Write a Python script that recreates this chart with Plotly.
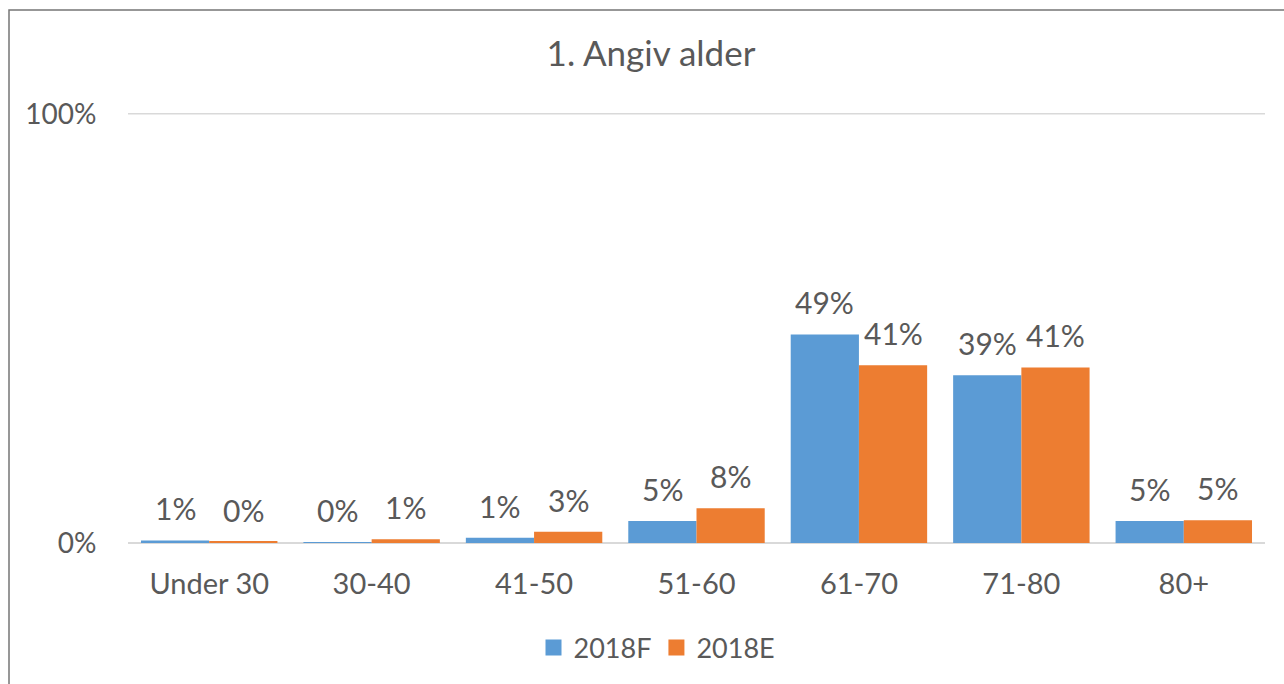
import plotly.graph_objects as go

categories = ["Under 30", "30-40", "41-50", "51-60", "61-70", "71-80", "80+"]
series_f = [0.006, 0.002, 0.012, 0.051, 0.486, 0.391, 0.051]
series_e = [0.003, 0.009, 0.026, 0.081, 0.414, 0.409, 0.053]
y_ticks = [0, 1]
y_tick_labels = ["0%", "100%"]

FONT = "Lato, 'Open Sans', sans-serif"
GREY = "#595959"
BLUE = "#5b9bd5"
ORANGE = "#ed7d31"

W, H = 1284, 684
L, R, T, B = 128, 19, 113, 141
PW, PH = W - L - R, H - T - B

fig = go.Figure()
fig.add_trace(go.Bar(name="2018F", x=categories, y=series_f, marker_color=BLUE,
                     marker_line_width=0, showlegend=False))
fig.add_trace(go.Bar(name="2018E", x=categories, y=series_e, marker_color=ORANGE,
                     marker_line_width=0, showlegend=False))
# legend entries
fig.add_trace(go.Scatter(name="2018F", x=[None], y=[None], mode="markers",
                         marker=dict(symbol="square", size=18, color=BLUE)))
fig.add_trace(go.Scatter(name="2018E", x=[None], y=[None], mode="markers",
                         marker=dict(symbol="square", size=18, color=ORANGE)))

bar_px = PW / len(categories) * (1 - 0.16) / 2
annotations = []
for vals, shift in ((series_f, -bar_px / 2), (series_e, bar_px / 2)):
    for c, v in zip(categories, vals):
        annotations.append(dict(x=c, y=v, xref="x", yref="y", text=f"{v:.0%}",
                                showarrow=False, xshift=shift, yshift=12, yanchor="bottom",
                                font=dict(size=30, color=GREY, family=FONT)))

fig.update_layout(
    width=W, height=H,
    margin=dict(l=L, r=R, t=T, b=B),
    paper_bgcolor="white", plot_bgcolor="white",
    barmode="group", bargap=0.16, bargroupgap=0,
    font=dict(family=FONT, color=GREY, size=24),
    title=dict(text="1. Angiv alder", x=651 / W, xanchor="center", y=1 - 54 / H, yanchor="middle",
               font=dict(size=35, color=GREY, family=FONT)),
    showlegend=True,
    legend=dict(orientation="h", x=(657 - L) / PW, xanchor="center", y=-(648 - (H - B)) / PH,
                yanchor="middle", font=dict(size=27, color=GREY, family=FONT), itemwidth=30),
    xaxis=dict(showgrid=False, showline=False, ticks="outside", ticklen=15,
               tickcolor="rgba(0,0,0,0)", tickfont=dict(size=29, color=GREY)),
    yaxis=dict(range=[0, 1.002], tickvals=y_ticks, ticktext=y_tick_labels, showgrid=True,
               gridcolor="#d9d9d9", gridwidth=1.5, zeroline=True, zerolinecolor="#d9d9d9",
               zerolinewidth=1.5, ticks="outside", ticklen=25, tickcolor="rgba(0,0,0,0)",
               tickfont=dict(size=28, color=GREY)),
    annotations=annotations,
    shapes=[
        dict(type="rect", xref="paper", yref="paper",
             x0=(9 - L) / PW, x1=1.5, y0=-1, y1=1 + (T - 10) / PH,
             line=dict(color="#767676", width=1.5), fillcolor="rgba(0,0,0,0)", layer="below"),
        dict(type="line", xref="paper", yref="y", x0=0, x1=1, y0=y_ticks[-1], y1=y_ticks[-1],
             line=dict(color="#d9d9d9", width=1.5), layer="below"),
    ],
)

fig.write_html("out.html", config={"displayModeBar": False},
               post_script="document.body.style.margin='0';")
